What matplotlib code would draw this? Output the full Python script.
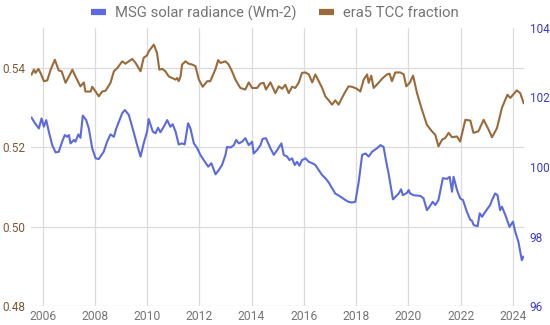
import numpy as np
from matplotlib import pyplot as plt
from matplotlib.lines import Line2D

# era5 TCC fraction (left axis)
tcc_year = [2005.58, 2005.67, 2005.73, 2005.84, 2005.92, 2006.05, 2006.18, 2006.31, 2006.47, 2006.62,
            2006.73, 2006.88, 2007.01, 2007.14, 2007.26, 2007.45, 2007.58, 2007.64, 2007.84, 2007.90,
            2008.03, 2008.15, 2008.28, 2008.41, 2008.60, 2008.73, 2008.86, 2009.05, 2009.17, 2009.30,
            2009.43, 2009.56, 2009.75, 2009.87, 2010.00, 2010.06, 2010.26, 2010.38, 2010.47, 2010.58,
            2010.70, 2010.83, 2010.96, 2011.09, 2011.15, 2011.21, 2011.28, 2011.34, 2011.47, 2011.59,
            2011.72, 2011.85, 2011.98, 2012.13, 2012.30, 2012.42, 2012.62, 2012.72, 2012.81, 2013.00,
            2013.12, 2013.25, 2013.38, 2013.57, 2013.76, 2013.89, 2014.02, 2014.21, 2014.34, 2014.46,
            2014.55, 2014.72, 2014.91, 2015.04, 2015.17, 2015.29, 2015.42, 2015.55, 2015.67, 2015.80,
            2015.93, 2016.06, 2016.19, 2016.32, 2016.44, 2016.57, 2016.70, 2016.82, 2016.95, 2017.08,
            2017.20, 2017.33, 2017.46, 2017.59, 2017.71, 2017.84, 2018.03, 2018.16, 2018.29, 2018.42,
            2018.48, 2018.58, 2018.67, 2018.86, 2018.99, 2019.18, 2019.28, 2019.37, 2019.50, 2019.69,
            2019.82, 2019.92, 2020.05, 2020.18, 2020.33, 2020.52, 2020.71, 2020.90, 2021.03, 2021.15,
            2021.29, 2021.41, 2021.54, 2021.67, 2021.86, 2021.98, 2022.18, 2022.37, 2022.49, 2022.68,
            2022.88, 2023.07, 2023.20, 2023.39, 2023.58, 2023.79, 2023.90, 2024.15, 2024.28, 2024.41]
tcc_val = [0.5383, 0.5395, 0.5387, 0.5397, 0.5387, 0.5366, 0.5368, 0.5395, 0.5420, 0.5393,
           0.5391, 0.5362, 0.5378, 0.5395, 0.5378, 0.5353, 0.5363, 0.5340, 0.5340, 0.5352,
           0.5340, 0.5328, 0.5340, 0.5342, 0.5362, 0.5391, 0.5399, 0.5416, 0.5410, 0.5416,
           0.5422, 0.5412, 0.5391, 0.5425, 0.5431, 0.5441, 0.5458, 0.5437, 0.5395, 0.5397,
           0.5391, 0.5378, 0.5374, 0.5370, 0.5374, 0.5366, 0.5378, 0.5408, 0.5416, 0.5410,
           0.5408, 0.5404, 0.5370, 0.5352, 0.5366, 0.5366, 0.5397, 0.5419, 0.5412, 0.5416,
           0.5408, 0.5391, 0.5370, 0.5349, 0.5345, 0.5363, 0.5349, 0.5349, 0.5360, 0.5362,
           0.5345, 0.5363, 0.5336, 0.5353, 0.5347, 0.5357, 0.5336, 0.5352, 0.5349, 0.5362,
           0.5387, 0.5388, 0.5383, 0.5363, 0.5383, 0.5366, 0.5349, 0.5328, 0.5318, 0.5307,
           0.5318, 0.5307, 0.5324, 0.5340, 0.5353, 0.5352, 0.5347, 0.5340, 0.5370, 0.5383,
           0.5362, 0.5380, 0.5349, 0.5362, 0.5372, 0.5383, 0.5385, 0.5366, 0.5388, 0.5388,
           0.5383, 0.5353, 0.5362, 0.5380, 0.5336, 0.5294, 0.5256, 0.5240, 0.5231, 0.5202,
           0.5219, 0.5223, 0.5236, 0.5225, 0.5227, 0.5214, 0.5269, 0.5267, 0.5236, 0.5240,
           0.5269, 0.5244, 0.5225, 0.5248, 0.5299, 0.5332, 0.5324, 0.5343, 0.5336, 0.5311]

# MSG solar radiance (right axis)
msg_year = [2005.58, 2005.71, 2005.86, 2005.96, 2006.05, 2006.14, 2006.24, 2006.37, 2006.50, 2006.62,
            2006.75, 2006.85, 2006.94, 2007.01, 2007.07, 2007.20, 2007.26, 2007.37, 2007.45, 2007.54,
            2007.67, 2007.77, 2007.90, 2008.03, 2008.15, 2008.34, 2008.47, 2008.60, 2008.73, 2008.82,
            2008.92, 2009.05, 2009.15, 2009.30, 2009.43, 2009.62, 2009.75, 2009.87, 2010.00, 2010.06,
            2010.22, 2010.32, 2010.42, 2010.51, 2010.64, 2010.77, 2010.89, 2010.98, 2011.09, 2011.21,
            2011.34, 2011.44, 2011.57, 2011.66, 2011.79, 2011.92, 2012.04, 2012.17, 2012.34, 2012.46,
            2012.62, 2012.74, 2012.87, 2013.00, 2013.06, 2013.19, 2013.32, 2013.41, 2013.51, 2013.64,
            2013.76, 2013.89, 2014.02, 2014.08, 2014.21, 2014.34, 2014.42, 2014.55, 2014.72, 2014.85,
            2014.98, 2015.14, 2015.23, 2015.36, 2015.45, 2015.55, 2015.65, 2015.74, 2015.83, 2015.93,
            2016.06, 2016.19, 2016.32, 2016.44, 2016.57, 2016.70, 2016.82, 2016.95, 2017.08, 2017.20,
            2017.40, 2017.59, 2017.71, 2017.84, 2017.97, 2018.10, 2018.23, 2018.36, 2018.48, 2018.61,
            2018.80, 2018.93, 2019.05, 2019.14, 2019.24, 2019.41, 2019.63, 2019.72, 2019.79, 2019.95,
            2020.01, 2020.07, 2020.20, 2020.46, 2020.58, 2020.71, 2020.81, 2020.93, 2021.03, 2021.15,
            2021.32, 2021.48, 2021.58, 2021.67, 2021.73, 2021.86, 2021.98, 2022.09, 2022.24, 2022.37,
            2022.43, 2022.50, 2022.65, 2022.73, 2022.82, 2022.94, 2023.13, 2023.20, 2023.32, 2023.41,
            2023.51, 2023.58, 2023.71, 2023.87, 2024.00, 2024.09, 2024.21, 2024.34, 2024.40]
msg_val = [101.42, 101.26, 101.11, 101.40, 101.16, 101.35, 101.02, 100.63, 100.42, 100.44,
           100.73, 100.92, 100.87, 100.92, 100.68, 100.78, 100.73, 100.94, 100.84, 101.48,
           101.35, 101.11, 100.54, 100.25, 100.23, 100.44, 100.73, 100.94, 100.87, 101.11,
           101.30, 101.55, 101.64, 101.50, 101.16, 100.63, 100.30, 100.68, 101.02, 101.38,
           101.02, 100.97, 101.13, 101.00, 101.16, 101.35, 101.16, 101.23, 101.02, 100.65,
           100.68, 100.65, 101.26, 101.11, 100.68, 100.54, 100.35, 100.20, 100.01, 100.11,
           99.79, 99.91, 100.06, 100.35, 100.58, 100.56, 100.63, 100.78, 100.68, 100.73,
           100.83, 100.63, 100.73, 100.39, 100.49, 100.63, 100.81, 100.83, 100.54, 100.35,
           100.49, 100.68, 100.35, 100.30, 100.20, 100.25, 100.06, 100.15, 100.04, 100.20,
           100.25, 100.15, 100.11, 100.06, 99.91, 99.77, 99.68, 99.56, 99.39, 99.24,
           99.15, 99.05, 99.00, 98.98, 99.00, 99.58, 100.35, 100.39, 100.30, 100.44,
           100.54, 100.63, 100.58, 100.20, 99.82, 99.07, 99.24, 99.36, 99.19, 99.26,
           99.34, 99.24, 99.19, 99.17, 99.10, 98.76, 98.86, 99.00, 98.91, 99.05,
           99.68, 99.66, 99.72, 99.29, 99.72, 99.34, 99.10, 99.05, 98.71, 98.48,
           98.46, 98.33, 98.30, 98.67, 98.57, 98.71, 98.91, 99.05, 99.24, 99.19,
           98.76, 98.86, 98.62, 98.28, 98.43, 98.14, 97.85, 97.32, 97.42]

left_ticks = [0.48, 0.50, 0.52, 0.54]
right_ticks = [96, 98, 100, 102, 104]
year_ticks = [2006, 2008, 2010, 2012, 2014, 2016, 2018, 2020, 2022, 2024]

blue = '#5c6ae0'
brown = '#9a6b3a'
plt.rcParams['font.family'] = ['Roboto', 'DejaVu Sans']

fig = plt.figure(figsize=(5.5, 3.25), dpi=100)
ax1 = fig.add_axes([0.056, 0.058, 0.897, 0.856])
ax2 = ax1.twinx()

ax1.plot(tcc_year, tcc_val, color=brown, lw=1.5, zorder=3)
ax2.plot(msg_year, msg_val, color=blue, lw=1.5, zorder=3)

ax1.set_xlim(2005.55, 2024.43)
ax1.set_ylim(0.48, 0.55)
ax2.set_ylim(96, 104)
ax1.set_yticks(left_ticks)
ax1.set_yticklabels([f'{t:.2f}' for t in left_ticks])
ax2.set_yticks(right_ticks)
ax1.set_xticks(year_ticks)

ax1.grid(True, color='#dcdcdc', lw=0.9)
ax1.set_axisbelow(True)
for a in (ax1, ax2):
    for s in a.spines.values():
        s.set_visible(False)
ax1.tick_params(axis='x', length=0, labelsize=8.7, labelcolor='#757575', pad=3)
ax1.tick_params(axis='y', length=0, labelsize=8.5, labelcolor='#7a5a36', pad=4)
ax2.tick_params(axis='y', length=0, labelsize=8.5, labelcolor='#3b3bcc', pad=4)

handles = [Line2D([], [], color=blue, lw=4.5, solid_capstyle='butt'),
           Line2D([], [], color=brown, lw=4.5, solid_capstyle='butt')]
fig.legend(handles, ['MSG solar radiance (Wm-2)', 'era5 TCC fraction'],
           loc='upper center', bbox_to_anchor=(0.5, 1.025), ncol=2, frameon=False,
           fontsize=10.7, labelcolor='#757575', handlelength=1.0, handletextpad=0.6,
           columnspacing=1.5)

fig.savefig('out.png', dpi=100)
